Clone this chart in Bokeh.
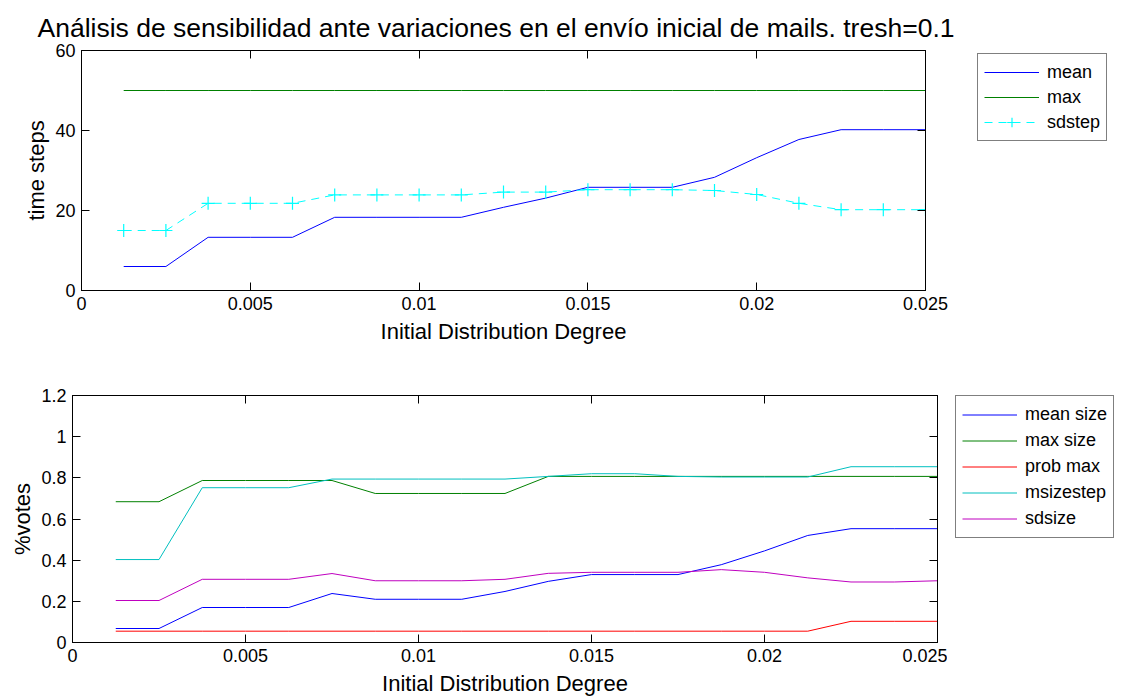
from bokeh.plotting import figure
from bokeh.layouts import column, row
from bokeh.models import Range1d, LinearAxis, FixedTicker, Legend, LegendItem, Title
from bokeh.embed import file_html
from bokeh.resources import INLINE

# ---------------- data ----------------
x_degree = [0.00125, 0.0025, 0.00375, 0.005, 0.00625, 0.0075, 0.00875, 0.01, 0.01125, 0.0125,
            0.01375, 0.015, 0.01625, 0.0175, 0.01875, 0.02, 0.02125, 0.0225, 0.02375, 0.025]

# top panel (time steps)
mean_steps = [6.0, 6.0, 13.3, 13.3, 13.3, 18.3, 18.3, 18.3, 18.3, 20.8,
              23.1, 25.8, 25.8, 25.8, 28.3, 33.2, 37.75, 40.2, 40.2, 40.2]
max_steps = [50, 50, 50, 50, 50, 50, 50, 50, 50, 50,
             50, 50, 50, 50, 50, 50, 50, 50, 50, 50]
sdstep = [15.0, 15.0, 21.8, 21.8, 21.8, 23.9, 23.9, 23.9, 23.9, 24.6,
          24.6, 25.2, 25.2, 25.2, 25.0, 24.0, 21.8, 20.2, 20.2, 20.2]

# bottom panel (%votes)
mean_size = [0.068, 0.068, 0.17, 0.17, 0.17, 0.238, 0.21, 0.21, 0.21, 0.248,
             0.297, 0.33, 0.33, 0.33, 0.378, 0.445, 0.52, 0.553, 0.553, 0.553]
max_size = [0.684, 0.684, 0.787, 0.787, 0.787, 0.787, 0.724, 0.724, 0.724, 0.724,
            0.807, 0.807, 0.807, 0.807, 0.807, 0.807, 0.807, 0.807, 0.807, 0.807]
prob_max = [0.055, 0.055, 0.055, 0.055, 0.055, 0.055, 0.055, 0.055, 0.055, 0.055,
            0.055, 0.055, 0.055, 0.055, 0.055, 0.055, 0.055, 0.103, 0.103, 0.103]
msizestep = [0.403, 0.403, 0.752, 0.752, 0.752, 0.794, 0.794, 0.794, 0.794, 0.794,
             0.807, 0.82, 0.82, 0.807, 0.804, 0.804, 0.804, 0.854, 0.854, 0.854]
sdsize = [0.204, 0.204, 0.307, 0.307, 0.307, 0.335, 0.30, 0.30, 0.30, 0.307,
          0.336, 0.341, 0.341, 0.341, 0.354, 0.341, 0.314, 0.294, 0.294, 0.30]

x_ticks = [0, 0.005, 0.01, 0.015, 0.02, 0.025]
x_tick_labels = ["0", "0.005", "0.01", "0.015", "0.02", "0.025"]
y1_ticks = [0, 20, 40, 60]
y1_tick_labels = ["0", "20", "40", "60"]
y2_ticks = [0, 0.2, 0.4, 0.6, 0.8, 1.0, 1.2]
y2_tick_labels = ["0", "0.2", "0.4", "0.6", "0.8", "1", "1.2"]

title_text = "Análisis de sensibilidad ante variaciones en el envío inicial de mails. tresh=0.1"
x_label = "Initial Distribution Degree"
y1_label = "time steps"
y2_label = "%votes"

top_names = ["mean", "max", "sdstep"]
top_colors = ["#0000ff", "#008000", "#00ffff"]
bottom_names = ["mean size", "max size", "prob max", "msizestep", "sdsize"]
bottom_colors = ["#0000ff", "#008000", "#ff0000", "#00bfbf", "#bf00bf"]

FONT = "Liberation Sans"
TICK_FS = "18px"
LABEL_FS = "22px"


def style_axis(ax, ticks, labels, show_labels=True):
    ax.ticker = FixedTicker(ticks=ticks)
    ax.major_tick_in = 8
    ax.major_tick_out = 0
    ax.minor_tick_in = 0
    ax.minor_tick_out = 0
    ax.axis_line_color = "black"
    ax.major_tick_line_color = "black"
    ax.major_label_text_font = FONT
    ax.major_label_text_color = "black"
    ax.major_label_text_font_size = TICK_FS
    ax.axis_label_text_font = FONT
    ax.axis_label_text_font_style = "normal"
    ax.axis_label_text_font_size = LABEL_FS
    ax.axis_label_text_color = "black"
    if show_labels:
        ax.major_label_overrides = {t: l for t, l in zip(ticks, labels)}
        ax.major_label_standoff = 6
    else:
        ax.major_label_overrides = {t: "" for t in ticks}
        ax.major_label_standoff = 0


def make_fig(fw, fh, left, right, top, bottom, yr, yticks, ylabels, ylabel):
    p = figure(frame_width=fw, frame_height=fh, x_range=Range1d(0, 0.025), y_range=yr,
               output_backend="svg", toolbar_location=None,
               min_border_left=left, min_border_right=right,
               min_border_top=top, min_border_bottom=bottom)
    p.xgrid.visible = False
    p.ygrid.visible = False
    p.outline_line_color = "black"
    p.outline_line_width = 1
    p.background_fill_color = "white"
    p.border_fill_color = "white"
    style_axis(p.xaxis[0], x_ticks, x_tick_labels)
    style_axis(p.yaxis[0], yticks, ylabels)
    p.xaxis[0].axis_label = x_label
    p.xaxis[0].axis_label_standoff = 6
    p.yaxis[0].axis_label = ylabel
    top_ax = LinearAxis()
    style_axis(top_ax, x_ticks, x_tick_labels, show_labels=False)
    p.add_layout(top_ax, "above")
    right_ax = LinearAxis()
    style_axis(right_ax, yticks, ylabels, show_labels=False)
    p.add_layout(right_ax, "right")
    return p


def legend_fig(w, h, off_x, off_y):
    # a blank figure that only holds the legend; its ranges keep the
    # series (drawn again only to give the legend its glyphs) out of view
    f = figure(width=w, height=h, x_range=Range1d(1, 2), y_range=Range1d(1000, 2000),
               x_axis_type=None, y_axis_type=None, output_backend="svg",
               toolbar_location=None, min_border_left=off_x, min_border_top=off_y,
               min_border_right=0, min_border_bottom=0)
    f.xgrid.visible = False
    f.ygrid.visible = False
    f.outline_line_color = None
    f.background_fill_color = "white"
    f.border_fill_color = "white"
    return f


def make_legend(items, row_h, margin):
    leg = Legend(items=items, location="top_left")
    leg.border_line_color = "black"
    leg.border_line_width = 1
    leg.background_fill_color = "white"
    leg.background_fill_alpha = 1
    leg.label_text_font = FONT
    leg.label_text_font_size = "18px"
    leg.label_text_color = "black"
    leg.glyph_width = 55
    leg.glyph_height = row_h
    leg.label_height = row_h
    leg.label_standoff = 8
    leg.spacing = 1
    leg.padding = 6
    leg.margin = margin
    return leg


# ---------------- top figure ----------------
p1 = make_fig(844, 240, 81, 40, 50, 58, Range1d(0, 60), y1_ticks, y1_tick_labels, y1_label)
p1.yaxis[0].axis_label_standoff = 3
p1.title = Title(text=title_text, align="left", offset=-44, text_font=FONT,
                 text_font_size="26.5px", text_font_style="normal", text_color="black",
                 standoff=15)

top_series = [mean_steps, max_steps, sdstep]
for name, ys, col in zip(top_names, top_series, top_colors):
    dash = "8 6" if name == "sdstep" else "solid"
    p1.line(x_degree, ys, line_color=col, line_width=1, line_dash=dash)
    if name == "sdstep":
        p1.scatter(x_degree, ys, marker="cross", size=13, line_color=col, line_width=1.2)

lf1 = legend_fig(1134 - 965, 348, 9, 50)
t_items = []
for name, ys, col in zip(top_names, top_series, top_colors):
    dash = "8 6" if name == "sdstep" else "solid"
    rs = [lf1.line(x_degree, ys, line_color=col, line_width=1, line_dash=dash)]
    if name == "sdstep":
        rs.append(lf1.scatter(x_degree, ys, marker="cross", size=13, line_color=col, line_width=1.2))
    t_items.append(LegendItem(label=name, renderers=rs))
lf1.add_layout(make_legend(t_items, 24, 3), "center")

# ---------------- bottom figure ----------------
p2 = make_fig(865, 247, 72, 10, 47, 55, Range1d(0, 1.2), y2_ticks, y2_tick_labels, y2_label)
p2.yaxis[0].axis_label_standoff = 3
p2.xaxis[0].axis_label_standoff = 8

bottom_series = [mean_size, max_size, prob_max, msizestep, sdsize]
for ys, col in zip(bottom_series, bottom_colors):
    p2.line(x_degree, ys, line_color=col, line_width=1)

lf2 = legend_fig(1134 - 947, 349, 8, 47)
b_items = []
for name, ys, col in zip(bottom_names, bottom_series, bottom_colors):
    b_items.append(LegendItem(label=name, renderers=[lf2.line(x_degree, ys, line_color=col, line_width=1)]))
lf2.add_layout(make_legend(b_items, 25, 0), "center")

layout = column(row(p1, lf1, spacing=0), row(p2, lf2, spacing=0), spacing=0)
open("out.html", "w").write(file_html(layout, INLINE))
